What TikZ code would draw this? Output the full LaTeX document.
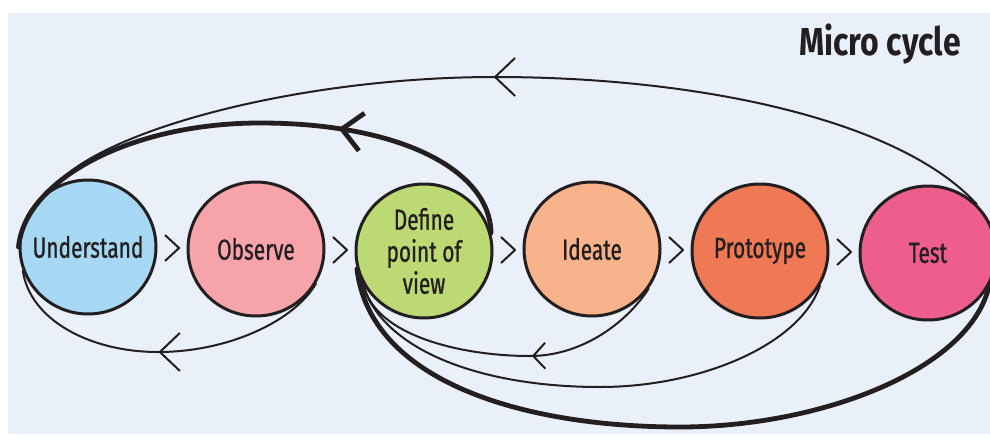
\documentclass[tikz,border=0pt]{standalone}
\usepackage{fontspec}
\newfontfamily\handfont[FakeStretch=0.72,FakeBold=0.8]{Fira Sans}
\newfontfamily\titlefont[FakeStretch=0.82]{Fira Sans}
\usetikzlibrary{positioning,calc,shapes.geometric,arrows.meta,decorations.markings}
\definecolor{bgpaper}{HTML}{EAF0F9}
\definecolor{undblue}{HTML}{A6D8F4}
\definecolor{obspink}{HTML}{F6A4AA}
\definecolor{defgreen}{HTML}{BDD974}
\definecolor{idepeach}{HTML}{F9B38B}
\definecolor{proorange}{HTML}{F07955}
\definecolor{testpink}{HTML}{EE5E8C}
\definecolor{inkdark}{HTML}{231F20}

\begin{document}
\begin{tikzpicture}[x=0.5pt, y=-0.5pt,
    stage/.style={draw=inkdark, ellipse, line width=1.5pt, minimum width=68pt, minimum height=67pt, inner sep=0pt},
    word/.style={text=inkdark, font=\handfont\fontsize{14.5}{16}\selectfont, align=center},
    chev/.style={draw=inkdark, line width=1pt},
    thinloop/.style={draw=inkdark, line width=1pt, line cap=round},
    thickloop/.style={draw=inkdark, line width=2.4pt, line cap=round},
    barbat/.style={postaction={decorate, decoration={markings, mark=at position #1 with {\arrow{Straight Barb[length=10pt,width=19pt]}}}}},
    smallbarbat/.style={postaction={decorate, decoration={markings, mark=at position #1 with {\arrow{Straight Barb[length=6pt,width=13pt]}}}}}
]
    \useasboundingbox (0,0) rectangle (990,439);
    \fill[bgpaper] (8,13) rectangle (990,434);

    \node[anchor=base east, text=inkdark, font=\titlefont\bfseries\fontsize{19.5}{20}\selectfont] (titlenode) at (968,55) {Micro cycle};

    % Stages
    \node[stage, fill=undblue] (undnode) at (88,247) {};
    \node[stage, fill=obspink,   right=14.5pt of undnode, yshift=-1pt] (obsnode) {};
    \node[stage, fill=defgreen,  right=14.5pt of obsnode, yshift=-1pt] (defnode) {};
    \node[stage, fill=idepeach,  right=14.5pt of defnode, yshift=1pt] (idenode) {};
    \node[stage, fill=proorange, right=14.5pt of idenode, yshift=-1pt] (pronode) {};
    \node[stage, fill=testpink,  right=14.5pt of pronode, yshift=-1pt] (testnode) {};

    \node[word] (undtext) at (undnode) {Understand};
    \node[word] (obstext) at (obsnode) {Observe};
    \node[word] (deftext) at (defnode) {Define\\point of\\view};
    \node[word] (idetext) at (idenode) {Ideate};
    \node[word] (protext) at (pronode) {Prototype};
    \node[word] (testtext) at (testnode) {Test};

    \foreach \a/\b in {undnode/obsnode, obsnode/defnode, defnode/idenode, idenode/pronode, pronode/testnode}
        \draw[chev] ($(\a.east)!.5!(\b.west)$) ++(-7,-13) -- ++(14,13) -- ++(-14,13);

    % Back to Understand
    \draw[thinloop, barbat=0.51] (obsnode.-30) .. controls (295,320) and (230,352) .. (158,352)
        .. controls (90,352) and (30,320) .. (undnode.200);
    \draw[thickloop, barbat=0.35] (defnode.15) .. controls (490,170) and (400,123) .. (260,123)
        .. controls (130,123) and (25,180) .. (undnode.west);
    \draw[thinloop, barbat=0.525] (testnode.45) .. controls (900,120) and (700,77) .. (495,77)
        .. controls (300,77) and (100,130) .. (undnode.120);

    % Back to Define point of view
    \draw[thinloop, smallbarbat=0.42] (idenode.-35) .. controls (625,325) and (580,356) .. (530,356)
        .. controls (460,356) and (375,335) .. (defnode.210);
    \draw[thinloop] (pronode.-30) .. controls (800,345) and (700,387) .. (600,387)
        .. controls (480,387) and (380,350) .. (defnode.205);
    \draw[thickloop] (testnode.-28) .. controls (970,370) and (820,427) .. (680,427)
        .. controls (520,427) and (370,380) .. (defnode.195);

\end{tikzpicture}
\end{document}
